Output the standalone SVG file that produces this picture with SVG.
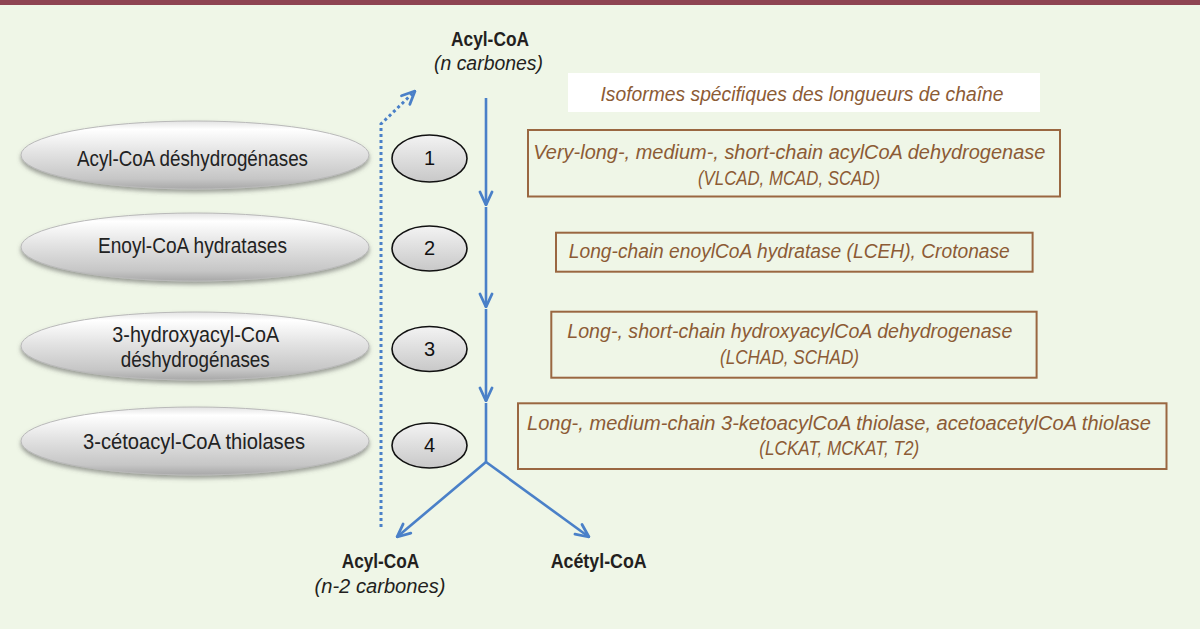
<svg xmlns="http://www.w3.org/2000/svg" width="1200" height="629" viewBox="0 0 1200 629">
<style>
.bg{fill:#EFF6E7}
.bar{fill:#8E4452}
.big{fill:url(#gBig);stroke:#b9b9b9;stroke-width:1}
.small{fill:url(#gSmall);stroke:#111;stroke-width:1.6}
.etext{font-family:"Liberation Sans",Arial,sans-serif;font-size:22px;fill:#222}
.num{font-family:"Liberation Sans",Arial,sans-serif;font-size:20px;fill:#111;text-anchor:middle}
.bold{font-family:"Liberation Sans",Arial,sans-serif;font-size:20px;font-weight:bold;fill:#231F20;text-anchor:middle}
.it{font-family:"Liberation Sans",Arial,sans-serif;font-size:20px;font-style:italic;fill:#231F20;text-anchor:middle}
.btext{font-family:"Liberation Sans",Arial,sans-serif;font-size:20px;font-style:italic;fill:#8C5B35;text-anchor:middle}
.box{fill:none;stroke:#9A6741;stroke-width:2}
.flow{fill:none;stroke:#4A80C8;stroke-width:2.6}
.dot{fill:none;stroke:#4A80C8;stroke-width:3;stroke-dasharray:3 3}
</style>
<defs>
<linearGradient id="gBig" x1="0" y1="0" x2="0" y2="1">
<stop offset="0" stop-color="#e2e2e2"/>
<stop offset="0.12" stop-color="#ffffff"/>
<stop offset="0.45" stop-color="#e4e4e4"/>
<stop offset="0.85" stop-color="#c6c6c6"/>
<stop offset="1" stop-color="#a8a8a8"/>
</linearGradient>
<linearGradient id="gSmall" x1="0" y1="0" x2="0" y2="1">
<stop offset="0" stop-color="#f3f3f3"/>
<stop offset="1" stop-color="#c8c8c8"/>
</linearGradient>
<filter id="shadow" x="-10%" y="-30%" width="120%" height="170%">
<feDropShadow dx="0" dy="3" stdDeviation="2" flood-color="#555" flood-opacity="0.55"/>
</filter>
<marker id="arr" viewBox="0 0 16 16" refX="15" refY="8" markerWidth="16" markerHeight="16" markerUnits="userSpaceOnUse" orient="auto">
<path d="M2,2 L15,8 L2,14" fill="none" stroke="#4A80C8" stroke-width="2.8" stroke-linecap="round" stroke-linejoin="round"/>
</marker>
</defs>
<rect class="bg" x="0" y="0" width="1200" height="629"/>
<rect class="bar" x="0" y="0" width="1200" height="5"/>

<g id="connectors">
<path class="flow" d="M486,98 V205" marker-end="url(#arr)"/>
<path class="flow" d="M486,207 V307" marker-end="url(#arr)"/>
<path class="flow" d="M486,309 V401" marker-end="url(#arr)"/>
<path class="flow" d="M486,403 V462"/>
<path class="flow" d="M486,462 L397,537" marker-end="url(#arr)"/>
<path class="flow" d="M486,462 L589,537" marker-end="url(#arr)"/>
<path class="dot" d="M381,527 V124 L415,91" marker-end="url(#arr)"/>
</g>

<g id="acylcoa-top">
<text class="bold" x="490" y="46" textLength="78" lengthAdjust="spacingAndGlyphs">Acyl-CoA</text>
<text class="it" x="488.5" y="70" textLength="109" lengthAdjust="spacingAndGlyphs">(n carbones)</text>
</g>

<g id="enzyme1">
<ellipse class="big" cx="195" cy="155" rx="174" ry="34" filter="url(#shadow)"/>
<text class="etext" x="192.5" y="166" text-anchor="middle" textLength="231" lengthAdjust="spacingAndGlyphs">Acyl-CoA déshydrogénases</text>
</g>
<g id="enzyme2">
<ellipse class="big" cx="195" cy="247" rx="174" ry="34" filter="url(#shadow)"/>
<text class="etext" x="192.5" y="253" text-anchor="middle" textLength="189" lengthAdjust="spacingAndGlyphs">Enoyl-CoA hydratases</text>
</g>
<g id="enzyme3">
<ellipse class="big" cx="195" cy="346" rx="174" ry="34" filter="url(#shadow)"/>
<text class="etext" x="195.8" y="341.5" text-anchor="middle" textLength="167" lengthAdjust="spacingAndGlyphs">3-hydroxyacyl-CoA</text>
<text class="etext" x="195.3" y="366.5" text-anchor="middle" textLength="149" lengthAdjust="spacingAndGlyphs">déshydrogénases</text>
</g>
<g id="enzyme4">
<ellipse class="big" cx="195" cy="441" rx="174" ry="34" filter="url(#shadow)"/>
<text class="etext" x="194" y="449" text-anchor="middle" textLength="222" lengthAdjust="spacingAndGlyphs">3-cétoacyl-CoA thiolases</text>
</g>

<g id="step1">
<ellipse class="small" cx="429.5" cy="158.5" rx="37.5" ry="23.5"/>
<text class="num" x="429.5" y="165">1</text>
</g>
<g id="step2">
<ellipse class="small" cx="429.5" cy="248.5" rx="37.5" ry="22.5"/>
<text class="num" x="429.5" y="255">2</text>
</g>
<g id="step3">
<ellipse class="small" cx="429.5" cy="349" rx="37.5" ry="22.5"/>
<text class="num" x="429.5" y="355.5">3</text>
</g>
<g id="step4">
<ellipse class="small" cx="429.5" cy="445.5" rx="37.5" ry="22.5"/>
<text class="num" x="429.5" y="452">4</text>
</g>

<g id="isoformes-title">
<rect x="568" y="73" width="472" height="39" fill="#ffffff"/>
<text class="btext" x="802" y="100.5" textLength="403" lengthAdjust="spacingAndGlyphs">Isoformes spécifiques des longueurs de chaîne</text>
</g>
<g id="iso1">
<rect class="box" x="528" y="130" width="532" height="66.5"/>
<text class="btext" x="789.3" y="159.3" textLength="512" lengthAdjust="spacingAndGlyphs">Very-long-, medium-, short-chain acylCoA dehydrogenase</text>
<text class="btext" x="789" y="185" textLength="182" lengthAdjust="spacingAndGlyphs">(VLCAD, MCAD, SCAD)</text>
</g>
<g id="iso2">
<rect class="box" x="556" y="232.7" width="476.6" height="39"/>
<text class="btext" x="789.3" y="258.3" textLength="441" lengthAdjust="spacingAndGlyphs">Long-chain enoylCoA hydratase (LCEH), Crotonase</text>
</g>
<g id="iso3">
<rect class="box" x="551.3" y="311.7" width="485.3" height="66"/>
<text class="btext" x="789.8" y="338.3" textLength="445" lengthAdjust="spacingAndGlyphs">Long-, short-chain hydroxyacylCoA dehydrogenase</text>
<text class="btext" x="789.5" y="364" textLength="139" lengthAdjust="spacingAndGlyphs">(LCHAD, SCHAD)</text>
</g>
<g id="iso4">
<rect class="box" x="518" y="403.3" width="648.5" height="65.7"/>
<text class="btext" x="839" y="430" textLength="624" lengthAdjust="spacingAndGlyphs">Long-, medium-chain 3-ketoacylCoA thiolase, acetoacetylCoA thiolase</text>
<text class="btext" x="839.3" y="455" textLength="160" lengthAdjust="spacingAndGlyphs">(LCKAT, MCKAT, T2)</text>
</g>

<g id="acylcoa-bottom">
<text class="bold" x="380.5" y="568.3" textLength="77.6" lengthAdjust="spacingAndGlyphs">Acyl-CoA</text>
<text class="it" x="380" y="592.7" textLength="131" lengthAdjust="spacingAndGlyphs">(n-2 carbones)</text>
</g>
<g id="acetylcoa">
<text class="bold" x="598.7" y="568.3" textLength="96" lengthAdjust="spacingAndGlyphs">Acétyl-CoA</text>
</g>
</svg>
